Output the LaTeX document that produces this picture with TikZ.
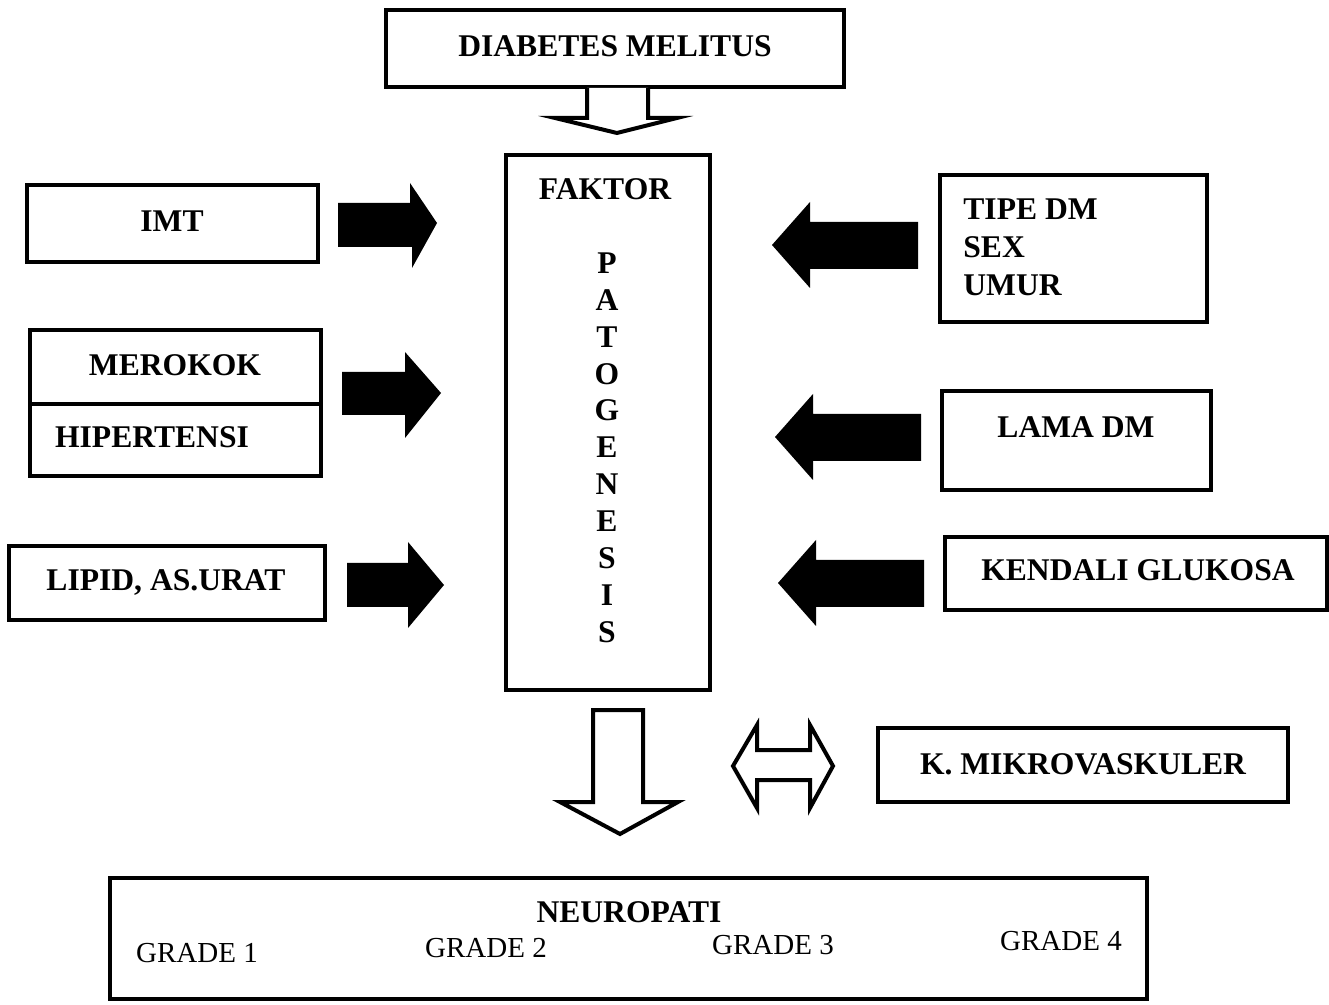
\documentclass[tikz,border=0pt]{standalone}
\usepackage{fontspec}
\setmainfont{Liberation Serif}

\tikzset{
   box/.style={line width=1.7pt},
   hollow/.style={line width=2pt, fill=white, line join=miter},
   lbl/.style={font=\bfseries\fontsize{15.8}{19}\selectfont, inner sep=0pt},
   grade/.style={font=\fontsize{14.5}{17}\selectfont, inner sep=0pt}
}

\begin{document}
\begin{tikzpicture}[x=0.5pt,y=-0.5pt]
   \useasboundingbox (0,0) rectangle (1329,1005);

   % top
   \draw[box] (386,10) rectangle (844,87);
   \node[lbl] (dm) at (615,46) {DIABETES MELITUS};
   \draw[hollow] (587,88) -- (587,118) -- (555,118) -- (617,133) -- (677,118) -- (648,118) -- (648,88);

   % centre column
   \draw[box] (506,155) rectangle (710,690);
   \node[lbl] (faktor) at (605,189) {FAKTOR};
   \foreach \ch [count=\i from 0] in {P,A,T,O,G,E,N,E,S,I,S}
      \node[lbl] (pat\i) at (607,263+36.9*\i) {\ch};

   % left side
   \draw[box] (27,185) rectangle (318,262);
   \node[lbl] (imt) at (172,221) {IMT};
   \fill (338,203) -- (410,203) -- (410,183) -- (437,223) -- (412,268) -- (412,247) -- (338,247) -- cycle;

   \draw[box] (30,330) rectangle (321,476);
   \draw[box] (30,404) -- (321,404);
   \node[lbl] (rokok) at (175,365) {MEROKOK};
   \node[lbl] (hiper) at (152,437) {HIPERTENSI};
   \fill (342,372) -- (405,372) -- (405,352) -- (441,393) -- (405,438) -- (405,415) -- (342,415) -- cycle;

   \draw[box] (9,546) rectangle (325,620);
   \node[lbl] (lipid) at (166,582) {LIPID, AS.URAT};
   \fill (347,563) -- (408,563) -- (408,542) -- (444,585) -- (408,628) -- (408,607) -- (347,607) -- cycle;

   % right side
   \draw[box] (940,175) rectangle (1207,322);
   \node[lbl, anchor=west, align=left] (tipe) at (963,247) {TIPE DM\\SEX\\UMUR};
   \fill (918,222) -- (810,222) -- (810,202) -- (772,245) -- (810,288) -- (810,269) -- (918,269) -- cycle;

   \draw[box] (942,391) rectangle (1211,490);
   \node[lbl] (lama) at (1076,427) {LAMA DM};
   \fill (921,414) -- (813,414) -- (813,394) -- (775,437) -- (813,480) -- (813,461) -- (921,461) -- cycle;

   \draw[box] (945,537) rectangle (1327,610);
   \node[lbl] (kendali) at (1138,570) {KENDALI GLUKOSA};
   \fill (924,560) -- (816,560) -- (816,540) -- (778,583) -- (816,626) -- (816,607) -- (924,607) -- cycle;

   % bottom
   \draw[hollow] (593,710) -- (593,802) -- (560,802) -- (620,834) -- (678,802) -- (643,802) -- (643,710) -- cycle;
   \draw[hollow] (733,766) -- (757,725) -- (757,750) -- (810,750) -- (810,725) -- (833,766) -- (810,808) -- (810,780) -- (757,780) -- (757,808) -- cycle;

   \draw[box] (878,728) rectangle (1288,802);
   \node[lbl] (mikro) at (1083,764) {K. MIKROVASKULER};

   \draw[box] (110,878) rectangle (1147,999);
   \node[lbl] (neuro) at (629,912) {NEUROPATI};
   \node[grade] (g1) at (197,953) {GRADE 1};
   \node[grade] (g2) at (486,948) {GRADE 2};
   \node[grade] (g3) at (773,945) {GRADE 3};
   \node[grade] (g4) at (1061,941) {GRADE 4};
\end{tikzpicture}
\end{document}
